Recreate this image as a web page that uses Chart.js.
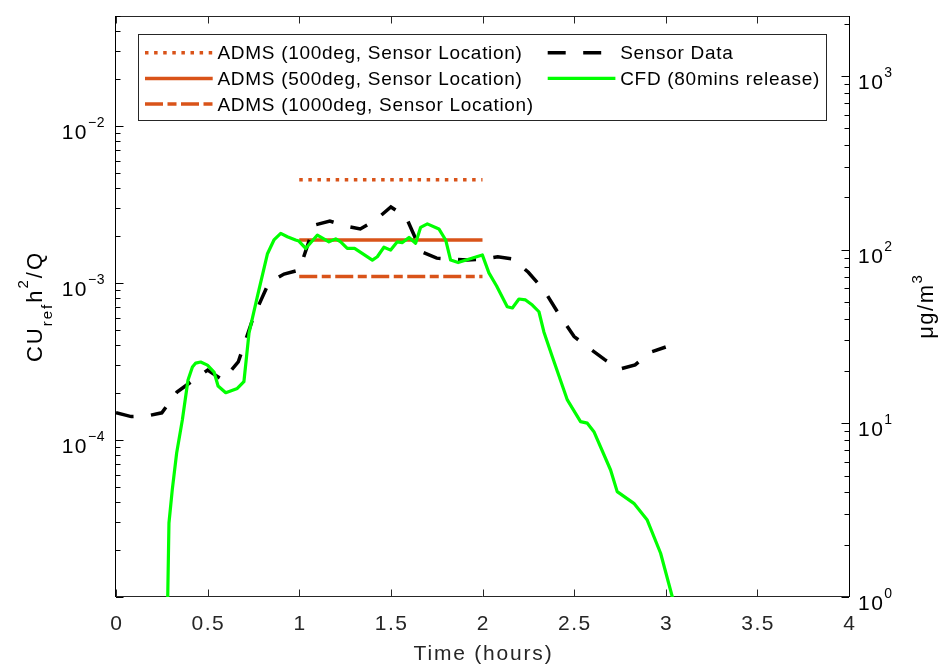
<!DOCTYPE html>
<html lang="en">

<head>
    <meta charset="UTF-8">
    <title>Sensor Data vs CFD vs ADMS</title>
    <script src="https://cdn.jsdelivr.net/npm/chart.js"></script>
    <style>
        html, body { margin: 0; padding: 0; background: #fff; }
        #wrap { width: 940px; height: 666px; }
    </style>
</head>

<body>
    <div id="wrap"><canvas id="myChart" width="940" height="666"></canvas></div>

    <script>
        // axis setup
        const xTicks = [0, 0.5, 1, 1.5, 2, 2.5, 3, 3.5, 4];
        const xTickLabels = ['0', '0.5', '1', '1.5', '2', '2.5', '3', '3.5', '4'];
        const leftExponents = [-4, -3, -2];
        const rightExponents = [0, 1, 2, 3];
        const leftRange = [1e-5, 0.0502];
        const rightRange = [1, 2216];

        // ADMS runs (constant over the release window)
        const admsTime = [1, 2];
        const adms100 = [4.55e-3, 4.55e-3];
        const adms500 = [1.88e-3, 1.88e-3];
        const adms1000 = [1.10e-3, 1.10e-3];

        // sensor data, 5 minute samples
        const sensorTime = [0, 0.083, 0.167, 0.25, 0.333, 0.417, 0.5, 0.583, 0.667, 0.75, 0.833, 0.917,
            1.0, 1.083, 1.167, 1.25, 1.333, 1.417, 1.5, 1.583, 1.667, 1.75, 1.833, 1.917,
            2.0, 2.083, 2.167, 2.25, 2.333, 2.417, 2.5, 2.583, 2.667, 2.75, 2.833, 2.917, 3.0];
        const sensorValues = [1.49e-4, 1.41e-4, 1.42e-4, 1.49e-4, 2.02e-4, 2.38e-4, 2.79e-4, 2.41e-4, 3.14e-4, 6.07e-4, 1.0e-3, 1.14e-3,
            1.21e-3, 2.34e-3, 2.48e-3, 2.31e-3, 2.21e-3, 2.52e-3, 3.05e-3, 2.63e-3, 1.58e-3, 1.44e-3, 1.42e-3, 1.40e-3,
            1.42e-3, 1.47e-3, 1.42e-3, 1.17e-3, 9.1e-4, 6.33e-4, 4.56e-4, 3.84e-4, 3.25e-4, 2.83e-4, 3.01e-4, 3.63e-4, 3.91e-4];

        // CFD, 80 minute release
        const cfdTime = [0.278, 0.289, 0.307, 0.331, 0.362, 0.393, 0.417, 0.435, 0.462, 0.499, 0.535, 0.557,
            0.599, 0.662, 0.698, 0.726, 0.771, 0.826, 0.862, 0.899, 0.935, 0.980, 0.998, 1.035,
            1.099, 1.162, 1.199, 1.226, 1.262, 1.302, 1.399, 1.426, 1.462, 1.499, 1.535, 1.563,
            1.599, 1.635, 1.662, 1.699, 1.762, 1.799, 1.826, 1.867, 1.999, 2.035, 2.077, 2.135,
            2.163, 2.199, 2.235, 2.272, 2.308, 2.335, 2.381, 2.463, 2.535, 2.572, 2.608, 2.699,
            2.735, 2.826, 2.899, 2.972, 3.036, 3.05];
        const cfdValues = [5e-6, 2.96e-5, 4.81e-5, 8.26e-5, 1.34e-4, 2.41e-4, 2.92e-4, 3.09e-4, 3.14e-4, 3.00e-4, 2.71e-4, 2.21e-4,
            2.00e-4, 2.13e-4, 2.35e-4, 4.81e-4, 8.15e-4, 1.53e-3, 1.88e-3, 2.07e-3, 1.97e-3, 1.88e-3, 1.85e-3, 1.66e-3,
            2.02e-3, 1.83e-3, 1.91e-3, 1.83e-3, 1.66e-3, 1.66e-3, 1.40e-3, 1.47e-3, 1.69e-3, 1.62e-3, 1.83e-3, 1.81e-3,
            1.95e-3, 1.79e-3, 2.26e-3, 2.38e-3, 2.21e-3, 1.88e-3, 1.40e-3, 1.35e-3, 1.51e-3, 1.16e-3, 9.57e-4, 7.06e-4,
            6.93e-4, 7.91e-4, 7.80e-4, 7.24e-4, 6.56e-4, 4.88e-4, 3.39e-4, 1.80e-4, 1.31e-4, 1.28e-4, 1.13e-4, 6.44e-5,
            4.69e-5, 3.95e-5, 3.09e-5, 1.90e-5, 1.0e-5, 8e-6];

        const ORANGE = '#D95319';
        const GREEN = '#00FF00';
        const AXIS_GRAY = '#262626';

        function pts(xs, ys) {
            return xs.map((x, i) => ({ x: x, y: ys[i] }));
        }

        function font(ctx, size, spacing) {
            ctx.font = size + 'px "Liberation Sans", Arial, Helvetica, sans-serif';
            ctx.letterSpacing = (spacing || 0) + 'px';
        }

        // parts: [text, size, dy, spacing]
        function runWidth(ctx, parts) {
            let w = 0;
            for (const p of parts) {
                font(ctx, p[1], p[3]);
                w += ctx.measureText(p[0]).width;
            }
            return w;
        }

        function drawRun(ctx, parts, x, y) {
            let cx = x;
            for (const p of parts) {
                font(ctx, p[1], p[3]);
                ctx.fillText(p[0], cx, y + p[2]);
                cx += ctx.measureText(p[0]).width;
            }
        }

        function powParts(e) {
            const sup = e < 0 ? '\u2212' + (-e) : String(e);
            return [['10', 21, 13, 1.5], [sup, 14, 1, 0.5]];
        }

        function logTickList(scale) {
            const out = [];
            const e0 = Math.floor(Math.log10(scale.min));
            const e1 = Math.ceil(Math.log10(scale.max));
            for (let e = e0; e <= e1; e++) {
                for (let m = 1; m <= 9; m++) {
                    const v = m * Math.pow(10, e);
                    if (v >= scale.min * 0.999 && v <= scale.max * 1.001) out.push({ v: v, major: m === 1 });
                }
            }
            return out;
        }

        const matlabAxes = {
            id: 'matlabAxes',
            beforeDatasetsDraw(chart) {
                const ctx = chart.ctx;
                const a = chart.chartArea;
                const xs = chart.scales.x, yl = chart.scales.y, yr = chart.scales.y2;
                ctx.save();
                ctx.lineWidth = 1;
                ctx.setLineDash([]);

                // x axis (bottom + top box line) with inward ticks
                ctx.strokeStyle = AXIS_GRAY;
                ctx.beginPath();
                ctx.moveTo(a.left, a.bottom - 0.5); ctx.lineTo(a.right, a.bottom - 0.5);
                ctx.moveTo(a.left, a.top + 0.5); ctx.lineTo(a.right, a.top + 0.5);
                xTicks.forEach(t => {
                    const px = Math.round(xs.getPixelForValue(t)) + 0.5;
                    ctx.moveTo(px, a.bottom); ctx.lineTo(px, a.bottom - 7.5);
                    ctx.moveTo(px, a.top); ctx.lineTo(px, a.top + 7.5);
                });
                ctx.stroke();

                // y axes
                ctx.strokeStyle = '#000';
                ctx.beginPath();
                ctx.moveTo(a.left - 0.5, a.top); ctx.lineTo(a.left - 0.5, a.bottom);
                ctx.moveTo(a.right + 0.5, a.top); ctx.lineTo(a.right + 0.5, a.bottom);
                logTickList(yl).forEach(t => {
                    const py = Math.round(yl.getPixelForValue(t.v)) + 0.5;
                    ctx.moveTo(a.left, py); ctx.lineTo(a.left + (t.major ? 7.5 : 4.5), py);
                });
                logTickList(yr).forEach(t => {
                    const py = Math.round(yr.getPixelForValue(t.v)) + 0.5;
                    ctx.moveTo(a.right, py); ctx.lineTo(a.right - (t.major ? 7.5 : 4.5), py);
                });
                ctx.stroke();

                // tick labels
                ctx.textBaseline = 'alphabetic';
                ctx.textAlign = 'center';
                ctx.fillStyle = AXIS_GRAY;
                font(ctx, 21, 1.5);
                xTicks.forEach((t, i) => {
                    ctx.fillText(xTickLabels[i], xs.getPixelForValue(t) + 0.75, a.bottom + 33);
                });

                ctx.textAlign = 'left';
                ctx.fillStyle = '#000';
                leftExponents.forEach(e => {
                    const parts = powParts(e);
                    const py = yl.getPixelForValue(Math.pow(10, e));
                    drawRun(ctx, parts, a.left - 11 - runWidth(ctx, parts), py);
                });
                rightExponents.forEach(e => {
                    const py = yr.getPixelForValue(Math.pow(10, e));
                    drawRun(ctx, powParts(e), a.right + 9, py);
                });

                // axis titles
                ctx.fillStyle = AXIS_GRAY;
                ctx.textAlign = 'center';
                font(ctx, 21, 1.8);
                ctx.fillText('Time (hours)', (a.left + a.right) / 2 + 1, a.bottom + 63);

                ctx.textAlign = 'left';
                ctx.fillStyle = '#000';
                const yMid = (a.top + a.bottom) / 2;
                const leftTitle = [['CU', 22, 0, 2], ['ref', 15, 10, 2], ['h', 22, 0, 2], ['2', 15, -14, 2], ['/Q', 22, 0, 2]];
                ctx.save();
                ctx.translate(41.5, yMid);
                ctx.rotate(-Math.PI / 2);
                drawRun(ctx, leftTitle, -runWidth(ctx, leftTitle) / 2, 0);
                ctx.restore();

                const rightTitle = [['\u03bcg/m', 22, 0, 1.5], ['3', 15, -11, 1]];
                ctx.save();
                ctx.translate(933, yMid);
                ctx.rotate(-Math.PI / 2);
                drawRun(ctx, rightTitle, -runWidth(ctx, rightTitle) / 2, 0);
                ctx.restore();

                ctx.restore();
            },
            afterDatasetsDraw(chart) {
                // two column legend, filled column by column like MATLAB
                const ctx = chart.ctx;
                const sets = chart.data.datasets;
                const rows = Math.ceil(sets.length / 2);
                const colX = [145, 547.7];
                ctx.save();
                ctx.fillStyle = '#fff';
                ctx.fillRect(138.5, 34.5, 688, 86);
                ctx.strokeStyle = AXIS_GRAY;
                ctx.lineWidth = 1;
                ctx.setLineDash([]);
                ctx.strokeRect(138.5, 34.5, 688, 86);

                sets.forEach((ds, i) => {
                    const col = Math.floor(i / rows), row = i % rows;
                    const x0 = colX[col];
                    const yc = 52.7 + row * 25.7;
                    ctx.beginPath();
                    ctx.strokeStyle = ds.borderColor;
                    ctx.lineWidth = ds.borderWidth;
                    ctx.lineCap = 'butt';
                    ctx.setLineDash(ds.borderDash || []);
                    ctx.moveTo(x0, yc);
                    ctx.lineTo(x0 + 67.7, yc);
                    ctx.stroke();

                    ctx.setLineDash([]);
                    ctx.fillStyle = '#000';
                    ctx.textAlign = 'left';
                    ctx.textBaseline = 'alphabetic';
                    font(ctx, 19, 0.7);
                    ctx.fillText(ds.label, x0 + 72.5, yc + 6.7);
                });
                ctx.restore();
            }
        };

        const ctx = document.getElementById('myChart').getContext('2d');
        window.myChart = new Chart(ctx, {
            type: 'line',
            data: {
                datasets: [{
                    label: 'ADMS (100deg, Sensor Location)',
                    data: pts(admsTime, adms100),
                    borderColor: ORANGE,
                    borderWidth: 3.5,
                    borderDash: [3.5, 5.6],
                    order: 3
                }, {
                    label: 'ADMS (500deg, Sensor Location)',
                    data: pts(admsTime, adms500),
                    borderColor: ORANGE,
                    borderWidth: 3.5,
                    borderDash: [],
                    order: 3
                }, {
                    label: 'ADMS (1000deg, Sensor Location)',
                    data: pts(admsTime, adms1000),
                    borderColor: ORANGE,
                    borderWidth: 3.5,
                    borderDash: [18, 4.5, 9, 4.5],
                    order: 3
                }, {
                    label: 'Sensor Data',
                    data: pts(sensorTime, sensorValues),
                    borderColor: '#000',
                    borderWidth: 3.5,
                    borderDash: [18, 17.5],
                    order: 2
                }, {
                    label: 'CFD (80mins release)',
                    data: pts(cfdTime, cfdValues),
                    borderColor: GREEN,
                    borderWidth: 3.2,
                    borderDash: [],
                    borderJoinStyle: 'round',
                    order: 1
                }]
            },
            options: {
                responsive: false,
                animation: false,
                devicePixelRatio: 1,
                layout: { padding: { top: 16, left: 0, right: 0, bottom: 0 } },
                datasets: {
                    line: {
                        fill: false,
                        tension: 0,
                        pointRadius: 0,
                        pointHoverRadius: 0,
                        borderCapStyle: 'butt',
                        clip: 0
                    }
                },
                plugins: {
                    legend: { display: false },
                    tooltip: { enabled: false }
                },
                events: [],
                scales: {
                    x: {
                        type: 'linear',
                        position: 'bottom',
                        min: 0,
                        max: 4,
                        grid: { display: false },
                        border: { display: false },
                        ticks: { display: false },
                        afterFit: s => { s.height = 69; }
                    },
                    y: {
                        type: 'logarithmic',
                        position: 'left',
                        min: leftRange[0],
                        max: leftRange[1],
                        grid: { display: false },
                        border: { display: false },
                        ticks: { display: false },
                        afterFit: s => { s.width = 116; }
                    },
                    y2: {
                        type: 'logarithmic',
                        position: 'right',
                        min: rightRange[0],
                        max: rightRange[1],
                        grid: { display: false },
                        border: { display: false },
                        ticks: { display: false },
                        afterFit: s => { s.width = 91; }
                    }
                }
            },
            plugins: [matlabAxes]
        });
    </script>
</body>

</html>
